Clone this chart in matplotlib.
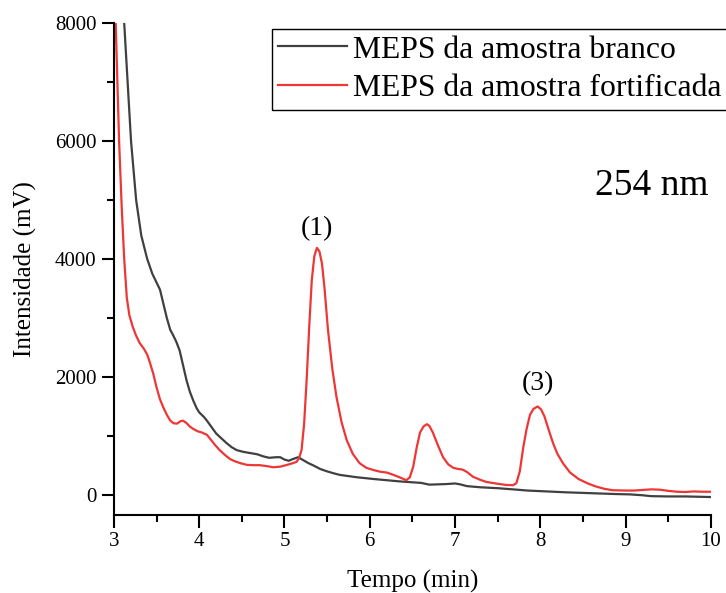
import numpy as np
import matplotlib.pyplot as plt
from matplotlib.ticker import MultipleLocator, AutoMinorLocator

plt.rcParams['font.family'] = ['Liberation Serif', 'DejaVu Serif']

# Chromatogram of the blank sample (MEPS)
t_branco = [3.06, 3.12, 3.16, 3.20, 3.26, 3.32, 3.39, 3.45, 3.50, 3.54, 3.57, 3.62,
            3.66, 3.69, 3.73, 3.77, 3.81, 3.85, 3.89, 3.93, 3.97, 4.00, 4.05, 4.09,
            4.15, 4.20, 4.26, 4.32, 4.38, 4.44, 4.52, 4.60, 4.68, 4.75, 4.82, 4.90,
            4.95, 5.00, 5.05, 5.10, 5.16, 5.22, 5.28, 5.34, 5.42, 5.50, 5.57, 5.65,
            5.75, 5.85, 5.95, 6.05, 6.20, 6.35, 6.50, 6.60, 6.70, 6.80, 6.90, 7.00,
            7.06, 7.14, 7.30, 7.50, 7.68, 7.85, 8.00, 8.15, 8.30, 8.50, 8.70, 8.90,
            9.05, 9.20, 9.30, 9.50, 9.70, 9.85, 10.0]
i_branco = [10000, 8000, 7000, 6000, 5000, 4400, 4000, 3750, 3600, 3480, 3300, 3000,
            2800, 2720, 2600, 2450, 2200, 1950, 1750, 1600, 1470, 1400, 1330, 1260,
            1140, 1040, 960, 880, 810, 760, 730, 710, 690, 655, 630, 640,
            640, 600, 580, 610, 640, 590, 540, 500, 440, 400, 370, 340,
            320, 300, 285, 270, 250, 230, 215, 205, 175, 180, 185, 195,
            180, 150, 130, 115, 95, 75, 65, 55, 45, 35, 25, 15,
            10, -5, -20, -25, -25, -30, -35]

# Chromatogram of the spiked sample (MEPS)
t_fort = [3.00, 3.02, 3.06, 3.09, 3.12, 3.15, 3.18, 3.22, 3.26, 3.30, 3.35, 3.39,
          3.42, 3.46, 3.50, 3.54, 3.58, 3.62, 3.66, 3.70, 3.74, 3.78, 3.81, 3.85,
          3.89, 3.93, 3.98, 4.03, 4.09, 4.14, 4.19, 4.24, 4.30, 4.36, 4.42, 4.48,
          4.56, 4.64, 4.71, 4.79, 4.87, 4.95, 5.03, 5.10, 5.14, 5.17, 5.20, 5.23,
          5.26, 5.29, 5.32, 5.35, 5.38, 5.41, 5.44, 5.47, 5.51, 5.56, 5.61, 5.67,
          5.73, 5.80, 5.88, 5.96, 6.05, 6.12, 6.20, 6.27, 6.35, 6.43, 6.47, 6.51,
          6.55, 6.59, 6.63, 6.67, 6.70, 6.74, 6.80, 6.86, 6.92, 6.98, 7.04, 7.09,
          7.14, 7.21, 7.29, 7.37, 7.50, 7.60, 7.68, 7.72, 7.76, 7.80, 7.84, 7.88,
          7.92, 7.97, 8.01, 8.05, 8.10, 8.15, 8.20, 8.27, 8.35, 8.45, 8.55, 8.65,
          8.75, 8.85, 9.00, 9.10, 9.20, 9.30, 9.40, 9.50, 9.60, 9.70, 9.80, 9.90,
          10.0]
i_fort = [8900, 8000, 6000, 4900, 4000, 3350, 3050, 2850, 2700, 2580, 2480, 2380,
          2250, 2060, 1820, 1620, 1480, 1360, 1260, 1215, 1210, 1250, 1260, 1220,
          1160, 1120, 1080, 1060, 1020, 930, 840, 760, 680, 610, 570, 540,
          510, 505, 505, 490, 470, 480, 510, 540, 560, 620, 760, 1200,
          1950, 2850, 3640, 4050, 4190, 4130, 3920, 3500, 2800, 2150, 1660, 1230,
          930, 700, 540, 460, 420, 395, 380, 345, 300, 250, 300, 480,
          800, 1060, 1160, 1200, 1170, 1060, 840, 640, 520, 460, 440, 430,
          390, 310, 260, 220, 190, 170, 165, 200, 400, 800, 1120, 1360,
          1460, 1500, 1450, 1330, 1100, 880, 700, 530, 380, 270, 200, 145,
          105, 80, 75, 75, 85, 95, 90, 70, 55, 50, 60, 55,
          55]

# Peak labels
picos = ['(1)', '(3)']
t_picos = [5.38, 7.97]
i_picos = [4520, 1880]

fig = plt.figure(figsize=(7.26, 5.93), dpi=100)
ax = fig.add_axes([0.157, 0.1315, 0.822, 0.8295])

ax.plot(t_branco, i_branco, color='#404040', lw=1.6, label='MEPS da amostra branco')
ax.plot(t_fort, i_fort, color='#ee3636', lw=1.6, label='MEPS da amostra fortificada')

for txt, x, y in zip(picos, t_picos, i_picos):
    ax.text(x, y, txt, fontsize=20, ha='center', va='center')
ax.text(9.31, 5250, '254 nm', fontsize=27, ha='center', va='center')

ax.set_xlim(3, 10)
ax.set_ylim(-340, 8000)
ax.xaxis.set_major_locator(MultipleLocator(1))
ax.yaxis.set_major_locator(MultipleLocator(2000))
ax.xaxis.set_minor_locator(AutoMinorLocator(2))
ax.yaxis.set_minor_locator(AutoMinorLocator(2))

for s in ['top', 'right']:
    ax.spines[s].set_visible(False)
for s in ['left', 'bottom']:
    ax.spines[s].set_linewidth(1.5)
ax.tick_params(which='major', direction='out', length=9, width=1.5, labelsize=15)
ax.tick_params(which='minor', direction='out', length=5, width=1.5)

ax.set_xlabel('Tempo (min)', fontsize=18, labelpad=13)
ax.set_ylabel('Intensidade (mV)', fontsize=18, labelpad=13)

leg = ax.legend(loc='upper left', bbox_to_anchor=(0.265, 0.988), borderaxespad=0,
                fontsize=22.8, frameon=True, fancybox=False, framealpha=1,
                edgecolor='black', handlelength=2.15, handletextpad=0.2,
                labelspacing=0.3, borderpad=0.2)
leg.get_frame().set_linewidth(1.0)

fig.savefig('out.png', dpi=100)
